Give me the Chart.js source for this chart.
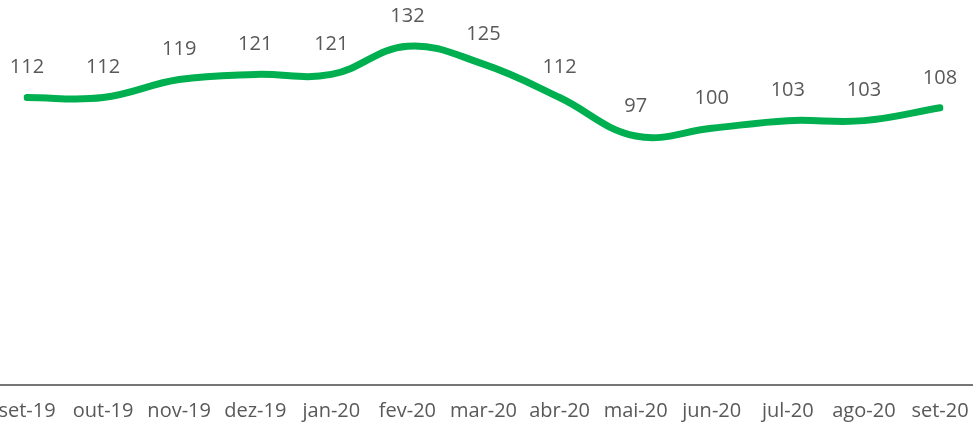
<!DOCTYPE html>
<html>
<head>
<meta charset="utf-8">
<script src="https://cdn.jsdelivr.net/npm/chart.js@4/dist/chart.umd.min.js"></script>
<style>
  html, body { margin: 0; padding: 0; background: #fff; }
  #wrap { width: 973px; height: 427px; }
</style>
</head>
<body>
<div id="wrap"><canvas id="lineChart"></canvas></div>
<script>
const months = ["set-19", "out-19", "nov-19", "dez-19", "jan-20", "fev-20", "mar-20",
  "abr-20", "mai-20", "jun-20", "jul-20", "ago-20", "set-20"];
const values = [112, 112, 119, 121, 121, 132, 125, 112, 97, 100, 103, 103, 108];

// full-width axis line, like the original
const axisLine = {
  id: "axisLine",
  beforeDatasetsDraw(chart) {
    const c = chart.ctx;
    const y = chart.chartArea.bottom;
    c.save();
    c.strokeStyle = "#767676";
    c.lineWidth = 2;
    c.beginPath();
    c.moveTo(0, y);
    c.lineTo(chart.width, y);
    c.stroke();
    c.restore();
  },
};

// value labels above each point
const valueLabels = {
  id: "valueLabels",
  afterDatasetsDraw(chart) {
    const c = chart.ctx;
    const meta = chart.getDatasetMeta(0);
    c.save();
    c.fillStyle = "#595959";
    c.font = "20px 'Open Sans'";
    c.textAlign = "center";
    c.textBaseline = "middle";
    meta.data.forEach((pt, i) => {
      c.fillText(String(values[i]), pt.x, pt.y - 30);
    });
    c.restore();
  },
};

const ctx = document.getElementById("lineChart").getContext("2d");
new Chart(ctx, {
  type: "line",
  data: {
    labels: months,
    datasets: [
      {
        data: values,
        borderColor: "#00B050",
        borderWidth: 7,
        borderCapStyle: "round",
        borderJoinStyle: "round",
        pointRadius: 0,
        tension: 0.4,
        fill: false,
      },
    ],
  },
  options: {
    responsive: true,
    maintainAspectRatio: false,
    animation: false,
    layout: { padding: { left: 27, right: 33, top: 0, bottom: 0 } },
    plugins: { legend: { display: false }, tooltip: { enabled: false } },
    scales: {
      x: {
        offset: false,
        grid: { display: false, drawTicks: false },
        border: { display: false },
        ticks: {
          color: "#595959",
          font: { family: "'Open Sans'", size: 20 },
          padding: 14,
          autoSkip: false,
          maxRotation: 0,
        },
        afterFit(scale) {
          scale.height = 42;
          scale.paddingLeft = 0;
          scale.paddingRight = 0;
        },
      },
      y: {
        display: false,
        min: 0,
        max: 150,
      },
    },
  },
  plugins: [axisLine, valueLabels],
});
</script>
</body>
</html>
